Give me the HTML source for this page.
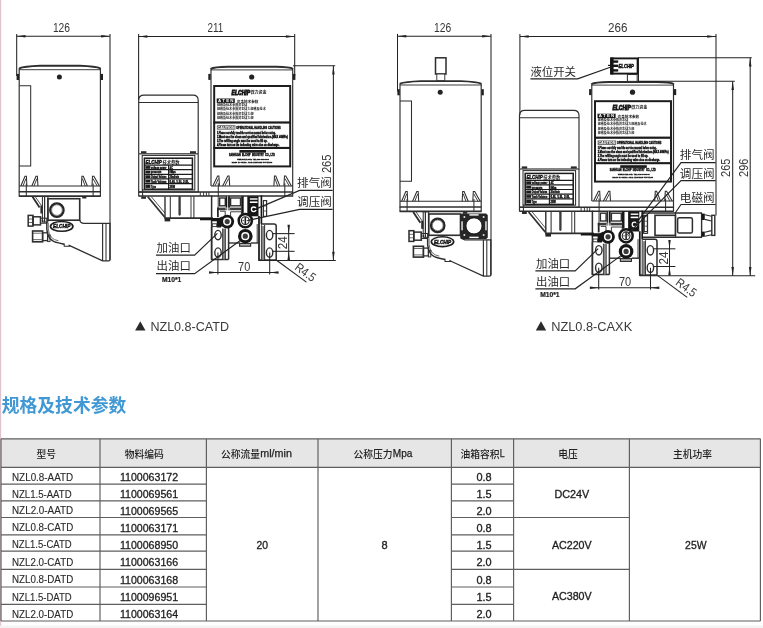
<!DOCTYPE html>
<html><head><meta charset="utf-8"><title>NZL</title>
<style>
html,body{margin:0;padding:0;background:#fff;}
body{width:763px;height:628px;overflow:hidden;font-family:"Liberation Sans","Noto Sans CJK SC",sans-serif;}
svg{display:block;font-family:"Liberation Sans","Noto Sans CJK SC",sans-serif;}
svg text{white-space:pre;}
</style></head><body>
<svg width="763" height="628" viewBox="0 0 763 628">
<rect width="763" height="628" fill="#fff"/>
<filter id="soft" x="0" y="0" width="763" height="628" filterUnits="userSpaceOnUse"><feGaussianBlur stdDeviation="0.38"/></filter>
<rect x="0" y="0" width="1" height="628" fill="#e0c3cd"/><rect x="1" y="0" width="1" height="628" fill="#fbf3f5"/>
<g filter="url(#soft)">
<line x1="16.70" y1="33.90" x2="16.70" y2="76.00" stroke="#222" stroke-width="1.044" /><line x1="110.00" y1="33.90" x2="110.00" y2="260.00" stroke="#222" stroke-width="1.044" /><line x1="16.70" y1="36.20" x2="110.00" y2="36.20" stroke="#222" stroke-width="1.044" /><polygon points="16.70,36.20 25.50,34.95 25.50,37.45" fill="#222"/><polygon points="110.00,36.20 101.20,34.95 101.20,37.45" fill="#222"/><text x="61.50" y="31.90" font-size="13.2" fill="#363636" text-anchor="middle" font-weight="normal" textLength="17.20" lengthAdjust="spacingAndGlyphs"  style="">126</text><g transform="translate(0,0)"><path d="M19.2,68.3 Q24,66.4 40,65.8 H80 Q96,66.4 100.4,68.3" stroke="#2e2e2e" stroke-width="1.856" fill="none" /><line x1="19.20" y1="69.70" x2="100.40" y2="69.70" stroke="#2e2e2e" stroke-width="0.928" /><line x1="19.20" y1="68.00" x2="19.20" y2="196.10" stroke="#2e2e2e" stroke-width="1.16" /><line x1="100.40" y1="68.00" x2="100.40" y2="196.10" stroke="#2e2e2e" stroke-width="1.16" /><rect x="16.60" y="73.90" width="2.40" height="6.10" fill="#222"/><rect x="100.60" y="73.90" width="2.40" height="6.10" fill="#222"/><circle cx="59.40" cy="77.00" r="2.50" stroke="#2e2e2e" stroke-width="0.0" fill="#222"/><path d="M19.2,85.8 H30.7 V165.9 H19.2" stroke="#2e2e2e" stroke-width="1.044" fill="none" /><path d="M20.8,186 L25.0,176.2 L26.4,176.2 L26.9,186" stroke="#2e2e2e" stroke-width="1.044" fill="none" /><line x1="23.00" y1="186.00" x2="25.90" y2="178.60" stroke="#2e2e2e" stroke-width="0.928" /><path d="M31.8,186 L36.0,176.2 L37.4,176.2 L37.9,186" stroke="#2e2e2e" stroke-width="1.044" fill="none" /><line x1="34.00" y1="186.00" x2="36.90" y2="178.60" stroke="#2e2e2e" stroke-width="0.928" /><path d="M87.4,186 L83.3,176.2 L81.89999999999999,176.2 L81.39999999999999,186" stroke="#2e2e2e" stroke-width="1.044" fill="none" /><line x1="85.20" y1="186.00" x2="82.40" y2="178.60" stroke="#2e2e2e" stroke-width="0.928" /><path d="M99.4,186 L93.9,176.2 L92.5,176.2 L92.0,186" stroke="#2e2e2e" stroke-width="1.044" fill="none" /><line x1="97.20" y1="186.00" x2="93.00" y2="178.60" stroke="#2e2e2e" stroke-width="0.928" /><line x1="19.20" y1="186.00" x2="100.40" y2="186.00" stroke="#2e2e2e" stroke-width="1.044" /><line x1="18.80" y1="191.70" x2="100.80" y2="191.70" stroke="#2e2e2e" stroke-width="1.624" /><line x1="18.80" y1="196.10" x2="100.80" y2="196.10" stroke="#2e2e2e" stroke-width="1.624" /><line x1="26.30" y1="183.60" x2="26.30" y2="196.10" stroke="#2e2e2e" stroke-width="1.044" /><line x1="93.10" y1="183.60" x2="93.10" y2="196.10" stroke="#2e2e2e" stroke-width="1.044" /><line x1="32.40" y1="196.60" x2="39.60" y2="207.40" stroke="#2e2e2e" stroke-width="1.856" /><line x1="35.20" y1="196.60" x2="41.40" y2="205.60" stroke="#2e2e2e" stroke-width="0.812" /><rect x="42.40" y="196.50" width="2.20" height="25.50" stroke="#2e2e2e" stroke-width="1.044" fill="none" /><rect x="44.60" y="196.50" width="3.30" height="25.50" stroke="#2e2e2e" stroke-width="1.044" fill="none" /><rect x="40.40" y="205.50" width="2.20" height="8.00" fill="#2a2a2a"/><rect x="82.20" y="196.60" width="4.20" height="1.90" fill="#2a2a2a"/><rect x="47.90" y="198.70" width="31.80" height="21.50" stroke="#2e2e2e" stroke-width="1.624" fill="none" /><circle cx="56.90" cy="210.10" r="6.70" stroke="#262626" stroke-width="2.32" fill="none"/><circle cx="56.90" cy="210.10" r="5.30" stroke="#666" stroke-width="0.696" fill="none"/><rect x="28.20" y="215.40" width="4.80" height="10.70" stroke="#2e2e2e" stroke-width="1.508" fill="none" /><line x1="28.20" y1="219.00" x2="32.60" y2="219.00" stroke="#2e2e2e" stroke-width="0.696" /><line x1="28.20" y1="222.50" x2="32.60" y2="222.50" stroke="#2e2e2e" stroke-width="0.696" /><rect x="33.00" y="216.80" width="7.50" height="8.10" stroke="#2e2e2e" stroke-width="1.508" fill="none" /><rect x="40.50" y="218.20" width="6.30" height="5.00" stroke="#2e2e2e" stroke-width="1.044" fill="none" /><circle cx="42.60" cy="220.70" r="0.90" stroke="#2e2e2e" stroke-width="0.0" fill="#222"/><rect x="32.60" y="231.00" width="10.00" height="10.80" stroke="#2e2e2e" stroke-width="1.624" fill="none" /><line x1="32.60" y1="233.20" x2="41.80" y2="233.20" stroke="#2e2e2e" stroke-width="0.696" /><line x1="32.60" y1="239.60" x2="41.80" y2="239.60" stroke="#2e2e2e" stroke-width="0.696" /><rect x="42.60" y="232.80" width="5.00" height="7.80" stroke="#2e2e2e" stroke-width="1.276" fill="none" /><rect x="47.60" y="235.00" width="2.40" height="6.60" stroke="#2e2e2e" stroke-width="0.928" fill="none" /><path d="M46.8,222 L46.8,229 Q47.6,241.5 58.5,242.9 L64.2,244.2" stroke="#2e2e2e" stroke-width="1.392" fill="none" /><path d="M48.3,223 L48.3,229 Q49.3,239.5 58.5,240.8" stroke="#2e2e2e" stroke-width="0.696" fill="none" /><path d="M64.2,243.4 V246.2 H69.6 V245.0" stroke="#2e2e2e" stroke-width="1.044" fill="none" /><path d="M79.7,220.2 Q80.4,223.4 84,223.4 H110.0 V259.4 Q110.0,260.8 108.6,260.8 H102.6 L68.6,245.2" stroke="#2e2e2e" stroke-width="1.276" fill="none" /><line x1="102.60" y1="223.40" x2="102.60" y2="260.80" stroke="#2e2e2e" stroke-width="1.16" /><line x1="106.00" y1="223.40" x2="106.00" y2="260.80" stroke="#2e2e2e" stroke-width="1.044" /><ellipse cx="61.70" cy="226.40" rx="12.00" ry="5.70" stroke="#2e2e2e" stroke-width="0.0" fill="#1c1c1c"/><ellipse cx="61.70" cy="226.40" rx="10.30" ry="4.10" stroke="#2e2e2e" stroke-width="0.0" fill="#fff"/><text x="61.70" y="228.30" font-size="5.2" fill="#111" text-anchor="middle" font-weight="bold" textLength="17.20" lengthAdjust="spacingAndGlyphs" stroke="#111" stroke-width="0.45" style="font-style:italic">ELCHIP</text></g><line x1="138.60" y1="34.00" x2="138.60" y2="100.00" stroke="#222" stroke-width="1.044" /><line x1="294.70" y1="34.00" x2="294.70" y2="76.00" stroke="#222" stroke-width="1.044" /><line x1="138.60" y1="36.40" x2="294.70" y2="36.40" stroke="#222" stroke-width="1.044" /><polygon points="138.60,36.40 147.40,35.15 147.40,37.65" fill="#222"/><polygon points="294.70,36.40 285.90,35.15 285.90,37.65" fill="#222"/><text x="215.30" y="31.90" font-size="13.2" fill="#363636" text-anchor="middle" font-weight="normal" textLength="15.80" lengthAdjust="spacingAndGlyphs"  style="">211</text><g transform="translate(0,0)"><path d="M138.7,153.6 V100.3 Q138.7,95.1 143.9,95.1 H193.0 Q198.2,95.1 198.2,100.3 V153.6" stroke="#2e2e2e" stroke-width="1.16" fill="none" /><line x1="138.70" y1="102.50" x2="198.20" y2="102.50" stroke="#2e2e2e" stroke-width="1.044" /><rect x="141.00" y="151.20" width="5.40" height="2.20" fill="#2a2a2a"/><rect x="190.00" y="151.20" width="6.00" height="2.20" fill="#2a2a2a"/><rect x="138.70" y="153.80" width="59.50" height="38.20" stroke="#2e2e2e" stroke-width="1.16" fill="none" /><rect x="142.20" y="155.40" width="52.60" height="34.60" stroke="#2e2e2e" stroke-width="1.044" fill="none" /><rect x="144.40" y="158.20" width="48.00" height="31.00" stroke="#1a1a1a" stroke-width="1.508" fill="none" /><text x="145.60" y="164.00" font-size="5.9" fill="#1a1a1a" text-anchor="start" font-weight="bold" textLength="16.20" lengthAdjust="spacingAndGlyphs" stroke="#1a1a1a" stroke-width="0.55" style="font-style:italic">ELCHIP</text><text x="162.40" y="163.90" font-size="4.3" fill="#1a1a1a" text-anchor="start" font-weight="bold" textLength="17.20" lengthAdjust="spacingAndGlyphs">技术参数</text><line x1="144.40" y1="165.10" x2="192.40" y2="165.10" stroke="#1a1a1a" stroke-width="1.218" /><line x1="144.40" y1="169.70" x2="192.40" y2="169.70" stroke="#1a1a1a" stroke-width="1.218" /><line x1="144.40" y1="174.30" x2="192.40" y2="174.30" stroke="#1a1a1a" stroke-width="1.218" /><line x1="144.40" y1="178.90" x2="192.40" y2="178.90" stroke="#1a1a1a" stroke-width="1.218" /><line x1="144.40" y1="183.60" x2="192.40" y2="183.60" stroke="#1a1a1a" stroke-width="1.218" /><line x1="168.60" y1="165.10" x2="168.60" y2="189.20" stroke="#1a1a1a" stroke-width="1.102" /><rect x="145.40" y="166.10" width="5.00" height="2.70" fill="#1a1a1a"/><text x="151.00" y="168.80" font-size="3.1" fill="#1a1a1a" text-anchor="start" font-weight="bold" textLength="15.50" lengthAdjust="spacingAndGlyphs" stroke="#1a1a1a" stroke-width="0.36" style="">voltage power</text><text x="169.60" y="168.80" font-size="3.1" fill="#1a1a1a" text-anchor="start" font-weight="bold" textLength="3.40" lengthAdjust="spacingAndGlyphs" stroke="#1a1a1a" stroke-width="0.36" style="">AC</text><rect x="145.40" y="170.70" width="5.00" height="2.70" fill="#1a1a1a"/><text x="151.00" y="173.40" font-size="3.1" fill="#1a1a1a" text-anchor="start" font-weight="bold" textLength="10.50" lengthAdjust="spacingAndGlyphs" stroke="#1a1a1a" stroke-width="0.36" style="">pressure</text><text x="169.60" y="173.40" font-size="3.1" fill="#1a1a1a" text-anchor="start" font-weight="bold" textLength="6.00" lengthAdjust="spacingAndGlyphs" stroke="#1a1a1a" stroke-width="0.36" style="">8Mpa</text><rect x="145.40" y="175.30" width="5.00" height="2.70" fill="#1a1a1a"/><text x="151.00" y="178.00" font-size="3.1" fill="#1a1a1a" text-anchor="start" font-weight="bold" textLength="15.50" lengthAdjust="spacingAndGlyphs" stroke="#1a1a1a" stroke-width="0.36" style="">Output Volume</text><text x="169.60" y="178.00" font-size="3.1" fill="#1a1a1a" text-anchor="start" font-weight="bold" textLength="9.50" lengthAdjust="spacingAndGlyphs" stroke="#1a1a1a" stroke-width="0.36" style="">20ml/min</text><rect x="145.40" y="179.90" width="5.00" height="2.70" fill="#1a1a1a"/><text x="151.00" y="182.60" font-size="3.1" fill="#1a1a1a" text-anchor="start" font-weight="bold" textLength="15.50" lengthAdjust="spacingAndGlyphs" stroke="#1a1a1a" stroke-width="0.36" style="">Tank Volume</text><text x="169.60" y="182.60" font-size="3.1" fill="#1a1a1a" text-anchor="start" font-weight="bold" textLength="19.50" lengthAdjust="spacingAndGlyphs" stroke="#1a1a1a" stroke-width="0.36" style="">0.8L 1.5L 2.0L</text><rect x="145.40" y="184.60" width="5.00" height="3.30" fill="#1a1a1a"/><text x="151.00" y="187.90" font-size="3.1" fill="#1a1a1a" text-anchor="start" font-weight="bold" textLength="5.00" lengthAdjust="spacingAndGlyphs" stroke="#1a1a1a" stroke-width="0.36" style="">Type</text><text x="169.60" y="187.90" font-size="3.1" fill="#1a1a1a" text-anchor="start" font-weight="bold" textLength="5.50" lengthAdjust="spacingAndGlyphs" stroke="#1a1a1a" stroke-width="0.36" style="">25W</text><line x1="138.70" y1="192.00" x2="292.90" y2="192.00" stroke="#2e2e2e" stroke-width="1.624" /><line x1="138.70" y1="196.00" x2="292.90" y2="196.00" stroke="#2e2e2e" stroke-width="1.624" /><line x1="138.70" y1="192.00" x2="138.70" y2="196.40" stroke="#2e2e2e" stroke-width="1.16" /><line x1="142.60" y1="189.60" x2="142.60" y2="196.40" stroke="#2e2e2e" stroke-width="1.044" /><line x1="200.30" y1="192.00" x2="200.30" y2="196.00" stroke="#2e2e2e" stroke-width="0.928" /><line x1="203.60" y1="192.00" x2="203.60" y2="196.00" stroke="#2e2e2e" stroke-width="0.928" /><line x1="206.40" y1="192.00" x2="206.40" y2="196.00" stroke="#2e2e2e" stroke-width="0.928" /><line x1="208.90" y1="192.00" x2="208.90" y2="196.00" stroke="#2e2e2e" stroke-width="0.928" /><rect x="141.20" y="196.60" width="4.80" height="2.20" fill="#2a2a2a"/><path d="M147.8,196.8 L164.6,217.0" stroke="#2e2e2e" stroke-width="1.74" fill="none" /><line x1="151.40" y1="196.80" x2="165.00" y2="213.20" stroke="#2e2e2e" stroke-width="0.812" /><line x1="164.30" y1="218.20" x2="213.00" y2="218.20" stroke="#2e2e2e" stroke-width="1.74" /><line x1="165.00" y1="196.40" x2="165.00" y2="218.20" stroke="#2e2e2e" stroke-width="1.392" /><line x1="170.30" y1="196.40" x2="170.30" y2="218.20" stroke="#2e2e2e" stroke-width="1.044" /><line x1="191.00" y1="196.40" x2="191.00" y2="218.20" stroke="#2e2e2e" stroke-width="0.928" /><line x1="193.90" y1="196.40" x2="193.90" y2="218.20" stroke="#2e2e2e" stroke-width="1.044" /><line x1="179.60" y1="197.00" x2="179.60" y2="214.60" stroke="#3a3a3a" stroke-width="2.32" stroke-linecap="round"/><rect x="164.60" y="218.60" width="5.60" height="2.80" fill="#262626"/><path d="M210.8,68.8 Q214,67.0 228,66.8 H276 Q290,67.0 292.9,68.8" stroke="#2e2e2e" stroke-width="1.972" fill="none" /><line x1="210.80" y1="69.90" x2="292.90" y2="69.90" stroke="#2e2e2e" stroke-width="0.928" /><line x1="211.00" y1="68.00" x2="211.00" y2="185.90" stroke="#2e2e2e" stroke-width="1.16" /><line x1="292.70" y1="68.00" x2="292.70" y2="196.40" stroke="#2e2e2e" stroke-width="1.16" /><rect x="208.30" y="73.90" width="2.40" height="6.00" fill="#222"/><rect x="293.00" y="73.90" width="2.40" height="6.00" fill="#222"/><circle cx="251.70" cy="77.00" r="2.60" stroke="#2e2e2e" stroke-width="0.0" fill="#222"/><rect x="214.20" y="86.00" width="76.00" height="80.40" stroke="#1c1c1c" stroke-width="1.972" fill="none" /><rect x="213.40" y="121.40" width="77.60" height="2.20" fill="#1c1c1c"/><rect x="213.40" y="146.90" width="77.60" height="2.10" fill="#1c1c1c"/><text x="231.60" y="94.50" font-size="6.3" fill="#1a1a1a" text-anchor="start" font-weight="bold" textLength="18.40" lengthAdjust="spacingAndGlyphs" stroke="#1a1a1a" stroke-width="0.85" style="font-style:italic">ELCHIP</text><text x="250.40" y="94.30" font-size="4" fill="#1a1a1a" text-anchor="start" font-weight="bold" textLength="16.00" lengthAdjust="spacingAndGlyphs">微力资金</text><rect x="216.70" y="98.50" width="18.10" height="4.40" fill="#1a1a1a"/><text x="218.00" y="102.00" font-size="3.6" fill="#fff" text-anchor="start" font-weight="bold" textLength="15.50" lengthAdjust="spacingAndGlyphs" stroke="#fff" stroke-width="0" style="">A T E N</text><text x="236.80" y="102.50" font-size="3.6" fill="#1a1a1a" text-anchor="start" font-weight="bold" textLength="21.60" lengthAdjust="spacingAndGlyphs">资金技术参数</text><text x="216.90" y="106.30" font-size="3.05" fill="#1a1a1a" text-anchor="start" font-weight="bold" textLength="30.50" lengthAdjust="spacingAndGlyphs">规格及技术参数资金微</text><text x="216.90" y="110.30" font-size="3.05" fill="#1a1a1a" text-anchor="start" font-weight="bold" textLength="48.80" lengthAdjust="spacingAndGlyphs">规格及技术参数资金微力规格及技术</text><text x="216.90" y="114.90" font-size="3.05" fill="#1a1a1a" text-anchor="start" font-weight="bold" textLength="36.60" lengthAdjust="spacingAndGlyphs">规格及技术参数资金微力规</text><text x="216.90" y="119.10" font-size="3.05" fill="#1a1a1a" text-anchor="start" font-weight="bold" textLength="36.60" lengthAdjust="spacingAndGlyphs">规格及技术参数资金微力规</text><rect x="216.90" y="125.30" width="18.50" height="4.30" fill="#555"/><text x="217.60" y="128.50" font-size="3.6" fill="#fff" text-anchor="start" font-weight="bold" textLength="17.00" lengthAdjust="spacingAndGlyphs" stroke="#fff" stroke-width="0" style="">CAUTION</text><text x="236.20" y="129.20" font-size="3.9" fill="#1a1a1a" text-anchor="start" font-weight="bold" textLength="44.40" lengthAdjust="spacingAndGlyphs" stroke="#1a1a1a" stroke-width="0.45" style="">OPERATIONAL HANDLING CAUTIONS</text><text x="216.90" y="134.00" font-size="3.2" fill="#1a1a1a" text-anchor="start" font-weight="bold" textLength="58.90" lengthAdjust="spacingAndGlyphs" stroke="#1a1a1a" stroke-width="0.42" style="">1.Please carefully read the service manual before using.</text><text x="216.90" y="138.00" font-size="3.2" fill="#1a1a1a" text-anchor="start" font-weight="bold" textLength="70.90" lengthAdjust="spacingAndGlyphs" stroke="#1a1a1a" stroke-width="0.42" style="">2.Must use the clean and qualified lubrication.(MAX 40MPa)</text><text x="216.90" y="141.70" font-size="3.2" fill="#1a1a1a" text-anchor="start" font-weight="bold" textLength="50.50" lengthAdjust="spacingAndGlyphs" stroke="#1a1a1a" stroke-width="0.42" style="">3.The refilling angle must be used to fill up.</text><text x="216.90" y="145.90" font-size="3.2" fill="#1a1a1a" text-anchor="start" font-weight="bold" textLength="62.40" lengthAdjust="spacingAndGlyphs" stroke="#1a1a1a" stroke-width="0.42" style="">4.Please turn on the indicating valve clos on discharge.</text><rect x="239.40" y="150.00" width="26.60" height="2.70" fill="#1a1a1a"/><text x="229.00" y="156.30" font-size="3.7" fill="#1a1a1a" text-anchor="start" font-weight="bold" textLength="46.00" lengthAdjust="spacingAndGlyphs" stroke="#1a1a1a" stroke-width="0.45" style="">SANHUAN  ELCHIP  INDUSTRY  CO., LTD</text><text x="237.20" y="159.80" font-size="2.2" fill="#1a1a1a" text-anchor="start" font-weight="bold" textLength="31.50" lengthAdjust="spacingAndGlyphs" stroke="#1a1a1a" stroke-width="0.3" style="">www.elchip.com  TEL:400-888-8888</text><text x="231.70" y="162.50" font-size="2.2" fill="#1a1a1a" text-anchor="start" font-weight="bold" textLength="40.60" lengthAdjust="spacingAndGlyphs" stroke="#1a1a1a" stroke-width="0.3" style="">Made in China  Add: Zhejiang Province</text><path d="M212.8,185.9 L217.6,176.0 L218.9,176.0 L219.5,185.9" stroke="#2e2e2e" stroke-width="1.044" fill="none" /><line x1="215.00" y1="185.90" x2="218.40" y2="178.60" stroke="#2e2e2e" stroke-width="0.928" /><path d="M222.6,185.9 L227.8,176.0 L229.10000000000002,176.0 L229.70000000000002,185.9" stroke="#2e2e2e" stroke-width="1.044" fill="none" /><line x1="224.80" y1="185.90" x2="228.60" y2="178.60" stroke="#2e2e2e" stroke-width="0.928" /><path d="M279.8,185.9 L275.8,176.0 L274.5,176.0 L273.90000000000003,185.9" stroke="#2e2e2e" stroke-width="1.044" fill="none" /><line x1="277.60" y1="185.90" x2="275.00" y2="178.60" stroke="#2e2e2e" stroke-width="0.928" /><path d="M291.4,185.9 L285.8,176.0 L284.5,176.0 L283.90000000000003,185.9" stroke="#2e2e2e" stroke-width="1.044" fill="none" /><line x1="289.20" y1="185.90" x2="285.00" y2="178.60" stroke="#2e2e2e" stroke-width="0.928" /><line x1="211.00" y1="185.90" x2="292.70" y2="185.90" stroke="#2e2e2e" stroke-width="1.044" /><line x1="218.30" y1="183.20" x2="218.30" y2="196.00" stroke="#2e2e2e" stroke-width="1.044" /><line x1="284.80" y1="183.20" x2="284.80" y2="196.00" stroke="#2e2e2e" stroke-width="1.044" /><line x1="211.60" y1="195.40" x2="211.60" y2="259.60" stroke="#2e2e2e" stroke-width="1.508" /><line x1="218.20" y1="196.00" x2="218.20" y2="207.60" stroke="#2e2e2e" stroke-width="0.928" /><rect x="219.60" y="198.00" width="5.70" height="7.80" stroke="#2e2e2e" stroke-width="1.392" fill="none" /><rect x="225.90" y="196.20" width="4.00" height="11.40" fill="#191919"/><rect x="230.60" y="198.00" width="9.90" height="7.80" stroke="#2e2e2e" stroke-width="1.392" fill="none" /><rect x="241.20" y="196.20" width="2.50" height="17.20" fill="#191919"/><rect x="247.30" y="196.20" width="11.20" height="20.10" fill="#191919"/><rect x="249.90" y="198.30" width="7.60" height="1.40" fill="#fff"/><rect x="249.90" y="201.40" width="7.60" height="1.60" fill="#fff"/><circle cx="253.70" cy="209.30" r="2.30" stroke="#fff" stroke-width="1.276" fill="#191919"/><rect x="254.60" y="208.60" width="2.40" height="1.40" fill="#191919"/><rect x="217.00" y="207.60" width="24.60" height="2.60" fill="#3c3c3c"/><rect x="217.00" y="207.60" width="1.80" height="9.60" fill="#2a2a2a"/><line x1="227.60" y1="196.20" x2="227.60" y2="214.50" stroke="#fff" stroke-width="0.812" /><line x1="225.20" y1="208.90" x2="230.20" y2="208.90" stroke="#fff" stroke-width="0.696" /><path d="M220,211.2 H225.2 V216" stroke="#2e2e2e" stroke-width="0.928" fill="none" /><path d="M230.6,216 V211.8 H241.4 V214" stroke="#2e2e2e" stroke-width="0.928" fill="none" /><line x1="261.40" y1="195.40" x2="261.40" y2="224.00" stroke="#191919" stroke-width="1.624" /><line x1="259.00" y1="216.00" x2="259.00" y2="260.40" stroke="#191919" stroke-width="1.74" /><rect x="263.40" y="200.60" width="3.20" height="15.80" stroke="#2e2e2e" stroke-width="1.16" fill="none" /><line x1="263.40" y1="206.00" x2="266.60" y2="206.00" stroke="#2e2e2e" stroke-width="0.696" /><line x1="263.40" y1="211.00" x2="266.60" y2="211.00" stroke="#2e2e2e" stroke-width="0.696" /><path d="M200,218.0 H219 L222,216.6 L224,222 L221,227.4 H216.8 V221.2 H211 V220.2 H200 Z" stroke="#2e2e2e" stroke-width="0.0" fill="#151515" /><rect x="212.20" y="223.80" width="4.60" height="2.80" stroke="#2e2e2e" stroke-width="0.928" fill="none" /><path d="M211.6,227 V259.4 H228.6" stroke="#2e2e2e" stroke-width="1.508" fill="none" /><rect x="223.00" y="228.50" width="2.00" height="30.90" fill="#8a8a8a"/><line x1="222.60" y1="228.50" x2="222.60" y2="259.40" stroke="#2e2e2e" stroke-width="0.928" /><line x1="225.40" y1="228.50" x2="225.40" y2="259.40" stroke="#2e2e2e" stroke-width="0.928" /><line x1="228.60" y1="227.00" x2="228.60" y2="259.40" stroke="#2e2e2e" stroke-width="1.508" /><ellipse cx="218.00" cy="235.10" rx="3.20" ry="4.70" stroke="#2e2e2e" stroke-width="1.392" fill="#fff"/><ellipse cx="218.00" cy="252.60" rx="3.20" ry="4.70" stroke="#2e2e2e" stroke-width="1.392" fill="#fff"/><line x1="228.60" y1="243.00" x2="240.00" y2="243.00" stroke="#2e2e2e" stroke-width="1.392" /><line x1="251.00" y1="243.00" x2="259.00" y2="243.00" stroke="#2e2e2e" stroke-width="1.392" /><rect x="239.60" y="243.40" width="11.00" height="2.80" stroke="#2e2e2e" stroke-width="1.16" fill="#b5b5b5" /><line x1="257.20" y1="224.00" x2="257.20" y2="243.00" stroke="#2e2e2e" stroke-width="0.928" /><circle cx="227.20" cy="221.60" r="6.90" stroke="#2e2e2e" stroke-width="0.0" fill="#161616"/><circle cx="227.20" cy="221.60" r="3.35" stroke="#fff" stroke-width="1.5" fill="#3a3a3a"/><circle cx="245.30" cy="220.60" r="6.60" stroke="#161616" stroke-width="2.5" fill="#fff"/><circle cx="245.30" cy="220.60" r="3.90" stroke="#222" stroke-width="1.1" fill="#fff"/><rect x="244.50" y="217.00" width="1.60" height="7.20" fill="#222"/><rect x="242.50" y="220.10" width="1.40" height="1.00" fill="#333"/><rect x="246.70" y="220.10" width="1.40" height="1.00" fill="#333"/><circle cx="245.30" cy="236.20" r="7.30" stroke="#2e2e2e" stroke-width="0.0" fill="#161616"/><circle cx="245.30" cy="236.20" r="3.35" stroke="#fff" stroke-width="1.5" fill="#3a3a3a"/><path d="M261.4,224.0 H274.0 Q276.2,224.0 276.2,226.2 V259.9 H258.4" stroke="#2e2e2e" stroke-width="1.508" fill="none" /><rect x="261.90" y="226.00" width="2.30" height="33.60" fill="#8a8a8a"/><line x1="264.60" y1="225.00" x2="264.60" y2="259.90" stroke="#2e2e2e" stroke-width="1.044" /><line x1="261.40" y1="224.00" x2="261.40" y2="259.90" stroke="#2e2e2e" stroke-width="0.928" /><ellipse cx="269.60" cy="235.10" rx="3.20" ry="4.70" stroke="#2e2e2e" stroke-width="1.392" fill="#fff"/><ellipse cx="269.60" cy="252.60" rx="3.20" ry="4.70" stroke="#2e2e2e" stroke-width="1.392" fill="#fff"/></g><g transform="translate(0,0)"><line x1="272.90" y1="233.60" x2="294.60" y2="233.60" stroke="#222" stroke-width="1.044" /><line x1="272.90" y1="251.30" x2="294.60" y2="251.30" stroke="#222" stroke-width="1.044" /><line x1="288.70" y1="225.00" x2="288.70" y2="260.50" stroke="#222" stroke-width="1.044" /><polygon points="288.70,233.60 287.45,224.80 289.95,224.80" fill="#222"/><polygon points="288.70,251.30 287.45,260.10 289.95,260.10" fill="#222"/><g transform="translate(287.0,242.7) rotate(-90)"><text x="0.00" y="0.00" font-size="13.2" fill="#363636" text-anchor="middle" font-weight="normal" textLength="13.00" lengthAdjust="spacingAndGlyphs"  style="">24</text></g><line x1="209.30" y1="272.60" x2="278.20" y2="272.60" stroke="#222" stroke-width="1.044" /><polygon points="217.90,272.60 209.10,271.35 209.10,273.85" fill="#222"/><polygon points="269.70,272.60 278.50,271.35 278.50,273.85" fill="#222"/><line x1="217.90" y1="252.60" x2="217.90" y2="274.40" stroke="#222" stroke-width="1.044" /><line x1="269.70" y1="252.60" x2="269.70" y2="274.40" stroke="#222" stroke-width="1.044" /><text x="244.20" y="271.10" font-size="13.2" fill="#363636" text-anchor="middle" font-weight="normal" textLength="12.20" lengthAdjust="spacingAndGlyphs"  style="">70</text><line x1="276.90" y1="260.50" x2="306.40" y2="282.10" stroke="#222" stroke-width="1.044" /><g transform="translate(303.0,275.6) rotate(36.2)"><text x="0.00" y="0.00" font-size="12.4" fill="#363636" text-anchor="middle" font-weight="normal" textLength="22.60" lengthAdjust="spacingAndGlyphs"  style="">R4.5</text></g></g><text x="156.60" y="252.00" font-size="11.4" fill="#2a2a2a" text-anchor="start" font-weight="normal" textLength="34.20" lengthAdjust="spacingAndGlyphs">加油口</text><path d="M156,255.2 H194.6 L217.4,233.4" stroke="#222" stroke-width="1.16" fill="none" /><text x="156.60" y="269.90" font-size="11.4" fill="#2a2a2a" text-anchor="start" font-weight="normal" textLength="34.20" lengthAdjust="spacingAndGlyphs">出油口</text><path d="M156,273.6 H194.6 L240.6,240.2" stroke="#222" stroke-width="1.16" fill="none" /><text x="161.90" y="281.50" font-size="6.3" fill="#222" text-anchor="start" font-weight="bold" textLength="19.40" lengthAdjust="spacingAndGlyphs" stroke="#222" stroke-width="0.2" style="">M10*1</text><line x1="293.00" y1="65.70" x2="335.20" y2="65.70" stroke="#222" stroke-width="1.044" /><line x1="258.60" y1="260.50" x2="335.80" y2="260.50" stroke="#222" stroke-width="1.044" /><line x1="333.40" y1="65.70" x2="333.40" y2="260.50" stroke="#222" stroke-width="1.044" /><polygon points="333.40,65.70 332.15,74.50 334.65,74.50" fill="#222"/><polygon points="333.40,260.50 332.15,251.70 334.65,251.70" fill="#222"/><g transform="translate(330.9,163.8) rotate(-90)"><text x="0.00" y="0.00" font-size="13.2" fill="#363636" text-anchor="middle" font-weight="normal" textLength="18.60" lengthAdjust="spacingAndGlyphs"  style="">265</text></g><text x="297.10" y="186.50" font-size="11.6" fill="#2a2a2a" text-anchor="start" font-weight="normal" textLength="34.80" lengthAdjust="spacingAndGlyphs">排气阀</text><path d="M332.6,190.4 H299.6 L255.0,209.4" stroke="#222" stroke-width="1.16" fill="none" /><text x="297.10" y="206.20" font-size="11.6" fill="#2a2a2a" text-anchor="start" font-weight="normal" textLength="34.80" lengthAdjust="spacingAndGlyphs">调压阀</text><path d="M332.6,209.4 H299.6 L248.0,220.4" stroke="#222" stroke-width="1.16" fill="none" /><polygon points="140.3,321.3 145.5,330.6 135.1,330.6" fill="#2b2b2b"/><text x="150.40" y="330.60" font-size="13" fill="#3a3a3a" text-anchor="start" font-weight="normal" textLength="78.60" lengthAdjust="spacingAndGlyphs"  style="">NZL0.8-CATD</text><line x1="397.50" y1="33.90" x2="397.50" y2="91.50" stroke="#222" stroke-width="1.044" /><line x1="491.00" y1="33.90" x2="491.00" y2="275.50" stroke="#222" stroke-width="1.044" /><line x1="397.50" y1="36.20" x2="491.00" y2="36.20" stroke="#222" stroke-width="1.044" /><polygon points="397.50,36.20 406.30,34.95 406.30,37.45" fill="#222"/><polygon points="491.00,36.20 482.20,34.95 482.20,37.45" fill="#222"/><text x="442.70" y="31.90" font-size="13.2" fill="#363636" text-anchor="middle" font-weight="normal" textLength="17.20" lengthAdjust="spacingAndGlyphs"  style="">126</text><rect x="435.50" y="57.80" width="10.50" height="16.20" stroke="#2e2e2e" stroke-width="1.508" fill="#fff" /><rect x="436.80" y="74.00" width="8.00" height="6.90" stroke="#2e2e2e" stroke-width="0.928" fill="#fff" /><g transform="translate(380.8,15.3)"><path d="M19.2,68.3 Q24,66.4 40,65.8 H80 Q96,66.4 100.4,68.3" stroke="#2e2e2e" stroke-width="1.856" fill="none" /><line x1="19.20" y1="69.70" x2="100.40" y2="69.70" stroke="#2e2e2e" stroke-width="0.928" /><line x1="19.20" y1="68.00" x2="19.20" y2="196.10" stroke="#2e2e2e" stroke-width="1.16" /><line x1="100.40" y1="68.00" x2="100.40" y2="196.10" stroke="#2e2e2e" stroke-width="1.16" /><rect x="16.60" y="73.90" width="2.40" height="6.10" fill="#222"/><rect x="100.60" y="73.90" width="2.40" height="6.10" fill="#222"/><circle cx="59.40" cy="77.00" r="2.50" stroke="#2e2e2e" stroke-width="0.0" fill="#222"/><path d="M19.2,85.8 H30.7 V165.9 H19.2" stroke="#2e2e2e" stroke-width="1.044" fill="none" /><path d="M20.8,186 L25.0,176.2 L26.4,176.2 L26.9,186" stroke="#2e2e2e" stroke-width="1.044" fill="none" /><line x1="23.00" y1="186.00" x2="25.90" y2="178.60" stroke="#2e2e2e" stroke-width="0.928" /><path d="M31.8,186 L36.0,176.2 L37.4,176.2 L37.9,186" stroke="#2e2e2e" stroke-width="1.044" fill="none" /><line x1="34.00" y1="186.00" x2="36.90" y2="178.60" stroke="#2e2e2e" stroke-width="0.928" /><path d="M87.4,186 L83.3,176.2 L81.89999999999999,176.2 L81.39999999999999,186" stroke="#2e2e2e" stroke-width="1.044" fill="none" /><line x1="85.20" y1="186.00" x2="82.40" y2="178.60" stroke="#2e2e2e" stroke-width="0.928" /><path d="M99.4,186 L93.9,176.2 L92.5,176.2 L92.0,186" stroke="#2e2e2e" stroke-width="1.044" fill="none" /><line x1="97.20" y1="186.00" x2="93.00" y2="178.60" stroke="#2e2e2e" stroke-width="0.928" /><line x1="19.20" y1="186.00" x2="100.40" y2="186.00" stroke="#2e2e2e" stroke-width="1.044" /><line x1="18.80" y1="191.70" x2="100.80" y2="191.70" stroke="#2e2e2e" stroke-width="1.624" /><line x1="18.80" y1="196.10" x2="100.80" y2="196.10" stroke="#2e2e2e" stroke-width="1.624" /><line x1="26.30" y1="183.60" x2="26.30" y2="196.10" stroke="#2e2e2e" stroke-width="1.044" /><line x1="93.10" y1="183.60" x2="93.10" y2="196.10" stroke="#2e2e2e" stroke-width="1.044" /><line x1="32.40" y1="196.60" x2="39.60" y2="207.40" stroke="#2e2e2e" stroke-width="1.856" /><line x1="35.20" y1="196.60" x2="41.40" y2="205.60" stroke="#2e2e2e" stroke-width="0.812" /><rect x="42.40" y="196.50" width="2.20" height="25.50" stroke="#2e2e2e" stroke-width="1.044" fill="none" /><rect x="44.60" y="196.50" width="3.30" height="25.50" stroke="#2e2e2e" stroke-width="1.044" fill="none" /><rect x="40.40" y="205.50" width="2.20" height="8.00" fill="#2a2a2a"/><rect x="82.20" y="196.60" width="4.20" height="1.90" fill="#2a2a2a"/><rect x="47.90" y="198.70" width="31.80" height="21.30" stroke="#2e2e2e" stroke-width="1.624" fill="none" /><circle cx="56.90" cy="210.10" r="6.70" stroke="#262626" stroke-width="2.32" fill="none"/><circle cx="56.90" cy="210.10" r="5.30" stroke="#666" stroke-width="0.696" fill="none"/><rect x="28.20" y="215.40" width="4.80" height="10.70" stroke="#2e2e2e" stroke-width="1.508" fill="none" /><line x1="28.20" y1="219.00" x2="32.60" y2="219.00" stroke="#2e2e2e" stroke-width="0.696" /><line x1="28.20" y1="222.50" x2="32.60" y2="222.50" stroke="#2e2e2e" stroke-width="0.696" /><rect x="33.00" y="216.80" width="7.50" height="8.10" stroke="#2e2e2e" stroke-width="1.508" fill="none" /><rect x="40.50" y="218.20" width="6.30" height="5.00" stroke="#2e2e2e" stroke-width="1.044" fill="none" /><circle cx="42.60" cy="220.70" r="0.90" stroke="#2e2e2e" stroke-width="0.0" fill="#222"/><rect x="32.60" y="231.00" width="10.00" height="10.80" stroke="#2e2e2e" stroke-width="1.624" fill="none" /><line x1="32.60" y1="233.20" x2="41.80" y2="233.20" stroke="#2e2e2e" stroke-width="0.696" /><line x1="32.60" y1="239.60" x2="41.80" y2="239.60" stroke="#2e2e2e" stroke-width="0.696" /><rect x="42.60" y="232.80" width="5.00" height="7.80" stroke="#2e2e2e" stroke-width="1.276" fill="none" /><rect x="47.60" y="235.00" width="2.40" height="6.60" stroke="#2e2e2e" stroke-width="0.928" fill="none" /><path d="M46.8,222 L46.8,229 Q47.6,241.5 58.5,242.9 L64.2,244.2" stroke="#2e2e2e" stroke-width="1.392" fill="none" /><path d="M48.3,223 L48.3,229 Q49.3,239.5 58.5,240.8" stroke="#2e2e2e" stroke-width="0.696" fill="none" /><path d="M64.2,243.4 V246.2 H69.6 V245.0" stroke="#2e2e2e" stroke-width="1.044" fill="none" /><path d="M79.7,222.6 L84,224.6 H110.0 V259.4 Q110.0,260.8 108.6,260.8 H102.6 L68.6,245.2" stroke="#2e2e2e" stroke-width="1.276" fill="none" /><line x1="102.60" y1="224.60" x2="102.60" y2="260.80" stroke="#2e2e2e" stroke-width="1.16" /><line x1="106.00" y1="224.60" x2="106.00" y2="260.80" stroke="#2e2e2e" stroke-width="1.044" /><path d="M81.0,198.3 H105.4 L107.0,199.9 V222.2 L105.4,223.8 H81.0 L79.4,222.2 V199.9 Z" stroke="#2e2e2e" stroke-width="0.0" fill="#262626" /><circle cx="93.20" cy="210.60" r="7.90" stroke="#2e2e2e" stroke-width="0.0" fill="#fff"/><circle cx="93.20" cy="210.60" r="8.10" stroke="#111" stroke-width="0.812" fill="none"/><rect x="88.60" y="198.90" width="9.20" height="1.40" fill="#fff"/><rect x="88.60" y="221.40" width="9.20" height="1.40" fill="#fff"/><rect x="80.60" y="206.00" width="1.30" height="9.00" fill="#fff"/><rect x="104.50" y="206.00" width="1.30" height="9.00" fill="#fff"/><circle cx="83.60" cy="201.60" r="1.00" stroke="#2e2e2e" stroke-width="0.0" fill="#e0e0e0"/><circle cx="102.80" cy="201.60" r="1.00" stroke="#2e2e2e" stroke-width="0.0" fill="#e0e0e0"/><circle cx="83.60" cy="219.80" r="1.00" stroke="#2e2e2e" stroke-width="0.0" fill="#e0e0e0"/><circle cx="102.80" cy="219.80" r="1.00" stroke="#2e2e2e" stroke-width="0.0" fill="#e0e0e0"/><ellipse cx="61.70" cy="226.40" rx="12.00" ry="5.70" stroke="#2e2e2e" stroke-width="0.0" fill="#1c1c1c"/><ellipse cx="61.70" cy="226.40" rx="10.30" ry="4.10" stroke="#2e2e2e" stroke-width="0.0" fill="#fff"/><text x="61.70" y="228.30" font-size="5.2" fill="#111" text-anchor="middle" font-weight="bold" textLength="17.20" lengthAdjust="spacingAndGlyphs" stroke="#111" stroke-width="0.45" style="font-style:italic">ELCHIP</text></g><line x1="519.90" y1="34.00" x2="519.90" y2="115.00" stroke="#222" stroke-width="1.044" /><line x1="716.00" y1="34.00" x2="716.00" y2="215.60" stroke="#222" stroke-width="1.044" /><line x1="519.90" y1="36.40" x2="716.00" y2="36.40" stroke="#222" stroke-width="1.044" /><polygon points="519.90,36.40 528.70,35.15 528.70,37.65" fill="#222"/><polygon points="716.00,36.40 707.20,35.15 707.20,37.65" fill="#222"/><text x="617.70" y="32.10" font-size="13.2" fill="#363636" text-anchor="middle" font-weight="normal" textLength="19.40" lengthAdjust="spacingAndGlyphs"  style="">266</text><line x1="643.00" y1="213.00" x2="702.00" y2="213.00" stroke="#2e2e2e" stroke-width="1.508" /><line x1="643.00" y1="237.20" x2="702.00" y2="237.20" stroke="#2e2e2e" stroke-width="1.508" /><rect x="643.60" y="215.30" width="4.00" height="18.10" stroke="#2e2e2e" stroke-width="1.044" fill="none" /><rect x="655.00" y="215.30" width="20.40" height="20.10" stroke="#2e2e2e" stroke-width="1.624" fill="none" /><line x1="675.60" y1="213.00" x2="675.60" y2="237.20" stroke="#2e2e2e" stroke-width="1.044" /><rect x="677.60" y="217.80" width="14.80" height="15.20" stroke="#2e2e2e" stroke-width="1.508" fill="none" rx="1.6"/><line x1="701.60" y1="213.00" x2="701.60" y2="237.20" stroke="#2e2e2e" stroke-width="1.392" /><rect x="701.60" y="213.60" width="3.20" height="6.40" fill="#191919"/><rect x="701.60" y="231.60" width="3.20" height="5.20" fill="#191919"/><path d="M704.8,219.4 L711.6,221.0 M704.8,232.2 L711.6,230.6" stroke="#2e2e2e" stroke-width="1.16" fill="none" /><path d="M704.8,214.8 L711.6,216.2 M704.8,236.2 L711.6,234.8" stroke="#2e2e2e" stroke-width="1.16" fill="none" /><rect x="711.80" y="215.30" width="3.00" height="20.10" stroke="#2e2e2e" stroke-width="1.392" fill="none" /><g transform="translate(380.8,15.2)"><path d="M138.7,153.6 V100.3 Q138.7,95.1 143.9,95.1 H193.0 Q198.2,95.1 198.2,100.3 V153.6" stroke="#2e2e2e" stroke-width="1.16" fill="none" /><line x1="138.70" y1="102.50" x2="198.20" y2="102.50" stroke="#2e2e2e" stroke-width="1.044" /><rect x="141.00" y="151.20" width="5.40" height="2.20" fill="#2a2a2a"/><rect x="190.00" y="151.20" width="6.00" height="2.20" fill="#2a2a2a"/><rect x="138.70" y="153.80" width="59.50" height="38.20" stroke="#2e2e2e" stroke-width="1.16" fill="none" /><rect x="142.20" y="155.40" width="52.60" height="34.60" stroke="#2e2e2e" stroke-width="1.044" fill="none" /><rect x="144.40" y="158.20" width="48.00" height="31.00" stroke="#1a1a1a" stroke-width="1.508" fill="none" /><text x="145.60" y="164.00" font-size="5.9" fill="#1a1a1a" text-anchor="start" font-weight="bold" textLength="16.20" lengthAdjust="spacingAndGlyphs" stroke="#1a1a1a" stroke-width="0.55" style="font-style:italic">ELCHIP</text><text x="162.40" y="163.90" font-size="4.3" fill="#1a1a1a" text-anchor="start" font-weight="bold" textLength="17.20" lengthAdjust="spacingAndGlyphs">技术参数</text><line x1="144.40" y1="165.10" x2="192.40" y2="165.10" stroke="#1a1a1a" stroke-width="1.218" /><line x1="144.40" y1="169.70" x2="192.40" y2="169.70" stroke="#1a1a1a" stroke-width="1.218" /><line x1="144.40" y1="174.30" x2="192.40" y2="174.30" stroke="#1a1a1a" stroke-width="1.218" /><line x1="144.40" y1="178.90" x2="192.40" y2="178.90" stroke="#1a1a1a" stroke-width="1.218" /><line x1="144.40" y1="183.60" x2="192.40" y2="183.60" stroke="#1a1a1a" stroke-width="1.218" /><line x1="168.60" y1="165.10" x2="168.60" y2="189.20" stroke="#1a1a1a" stroke-width="1.102" /><rect x="145.40" y="166.10" width="5.00" height="2.70" fill="#1a1a1a"/><text x="151.00" y="168.80" font-size="3.1" fill="#1a1a1a" text-anchor="start" font-weight="bold" textLength="15.50" lengthAdjust="spacingAndGlyphs" stroke="#1a1a1a" stroke-width="0.36" style="">voltage power</text><text x="169.60" y="168.80" font-size="3.1" fill="#1a1a1a" text-anchor="start" font-weight="bold" textLength="3.40" lengthAdjust="spacingAndGlyphs" stroke="#1a1a1a" stroke-width="0.36" style="">AC</text><rect x="145.40" y="170.70" width="5.00" height="2.70" fill="#1a1a1a"/><text x="151.00" y="173.40" font-size="3.1" fill="#1a1a1a" text-anchor="start" font-weight="bold" textLength="10.50" lengthAdjust="spacingAndGlyphs" stroke="#1a1a1a" stroke-width="0.36" style="">pressure</text><text x="169.60" y="173.40" font-size="3.1" fill="#1a1a1a" text-anchor="start" font-weight="bold" textLength="6.00" lengthAdjust="spacingAndGlyphs" stroke="#1a1a1a" stroke-width="0.36" style="">8Mpa</text><rect x="145.40" y="175.30" width="5.00" height="2.70" fill="#1a1a1a"/><text x="151.00" y="178.00" font-size="3.1" fill="#1a1a1a" text-anchor="start" font-weight="bold" textLength="15.50" lengthAdjust="spacingAndGlyphs" stroke="#1a1a1a" stroke-width="0.36" style="">Output Volume</text><text x="169.60" y="178.00" font-size="3.1" fill="#1a1a1a" text-anchor="start" font-weight="bold" textLength="9.50" lengthAdjust="spacingAndGlyphs" stroke="#1a1a1a" stroke-width="0.36" style="">20ml/min</text><rect x="145.40" y="179.90" width="5.00" height="2.70" fill="#1a1a1a"/><text x="151.00" y="182.60" font-size="3.1" fill="#1a1a1a" text-anchor="start" font-weight="bold" textLength="15.50" lengthAdjust="spacingAndGlyphs" stroke="#1a1a1a" stroke-width="0.36" style="">Tank Volume</text><text x="169.60" y="182.60" font-size="3.1" fill="#1a1a1a" text-anchor="start" font-weight="bold" textLength="19.50" lengthAdjust="spacingAndGlyphs" stroke="#1a1a1a" stroke-width="0.36" style="">0.8L 1.5L 2.0L</text><rect x="145.40" y="184.60" width="5.00" height="3.30" fill="#1a1a1a"/><text x="151.00" y="187.90" font-size="3.1" fill="#1a1a1a" text-anchor="start" font-weight="bold" textLength="5.00" lengthAdjust="spacingAndGlyphs" stroke="#1a1a1a" stroke-width="0.36" style="">Type</text><text x="169.60" y="187.90" font-size="3.1" fill="#1a1a1a" text-anchor="start" font-weight="bold" textLength="5.50" lengthAdjust="spacingAndGlyphs" stroke="#1a1a1a" stroke-width="0.36" style="">25W</text><line x1="138.70" y1="192.00" x2="292.90" y2="192.00" stroke="#2e2e2e" stroke-width="1.624" /><line x1="138.70" y1="196.00" x2="292.90" y2="196.00" stroke="#2e2e2e" stroke-width="1.624" /><line x1="138.70" y1="192.00" x2="138.70" y2="196.40" stroke="#2e2e2e" stroke-width="1.16" /><line x1="142.60" y1="189.60" x2="142.60" y2="196.40" stroke="#2e2e2e" stroke-width="1.044" /><line x1="200.30" y1="192.00" x2="200.30" y2="196.00" stroke="#2e2e2e" stroke-width="0.928" /><line x1="203.60" y1="192.00" x2="203.60" y2="196.00" stroke="#2e2e2e" stroke-width="0.928" /><line x1="206.40" y1="192.00" x2="206.40" y2="196.00" stroke="#2e2e2e" stroke-width="0.928" /><line x1="208.90" y1="192.00" x2="208.90" y2="196.00" stroke="#2e2e2e" stroke-width="0.928" /><rect x="141.20" y="196.60" width="4.80" height="2.20" fill="#2a2a2a"/><path d="M147.8,196.8 L164.6,217.0" stroke="#2e2e2e" stroke-width="1.74" fill="none" /><line x1="151.40" y1="196.80" x2="165.00" y2="213.20" stroke="#2e2e2e" stroke-width="0.812" /><line x1="164.30" y1="218.20" x2="213.00" y2="218.20" stroke="#2e2e2e" stroke-width="1.74" /><line x1="165.00" y1="196.40" x2="165.00" y2="218.20" stroke="#2e2e2e" stroke-width="1.392" /><line x1="170.30" y1="196.40" x2="170.30" y2="218.20" stroke="#2e2e2e" stroke-width="1.044" /><line x1="191.00" y1="196.40" x2="191.00" y2="218.20" stroke="#2e2e2e" stroke-width="0.928" /><line x1="193.90" y1="196.40" x2="193.90" y2="218.20" stroke="#2e2e2e" stroke-width="1.044" /><line x1="179.60" y1="197.00" x2="179.60" y2="214.60" stroke="#3a3a3a" stroke-width="2.32" stroke-linecap="round"/><rect x="164.60" y="218.60" width="5.60" height="2.80" fill="#262626"/><path d="M210.8,68.8 Q214,67.0 228,66.8 H276 Q290,67.0 292.9,68.8" stroke="#2e2e2e" stroke-width="1.972" fill="none" /><line x1="210.80" y1="69.90" x2="292.90" y2="69.90" stroke="#2e2e2e" stroke-width="0.928" /><line x1="211.00" y1="68.00" x2="211.00" y2="185.90" stroke="#2e2e2e" stroke-width="1.16" /><line x1="292.70" y1="68.00" x2="292.70" y2="196.40" stroke="#2e2e2e" stroke-width="1.16" /><rect x="208.30" y="73.90" width="2.40" height="6.00" fill="#222"/><rect x="293.00" y="73.90" width="2.40" height="6.00" fill="#222"/><circle cx="251.70" cy="77.00" r="2.60" stroke="#2e2e2e" stroke-width="0.0" fill="#222"/><rect x="214.20" y="86.00" width="76.00" height="80.40" stroke="#1c1c1c" stroke-width="1.972" fill="none" /><rect x="213.40" y="121.40" width="77.60" height="2.20" fill="#1c1c1c"/><rect x="213.40" y="146.90" width="77.60" height="2.10" fill="#1c1c1c"/><text x="231.60" y="94.50" font-size="6.3" fill="#1a1a1a" text-anchor="start" font-weight="bold" textLength="18.40" lengthAdjust="spacingAndGlyphs" stroke="#1a1a1a" stroke-width="0.85" style="font-style:italic">ELCHIP</text><text x="250.40" y="94.30" font-size="4" fill="#1a1a1a" text-anchor="start" font-weight="bold" textLength="16.00" lengthAdjust="spacingAndGlyphs">微力资金</text><rect x="216.70" y="98.50" width="18.10" height="4.40" fill="#1a1a1a"/><text x="218.00" y="102.00" font-size="3.6" fill="#fff" text-anchor="start" font-weight="bold" textLength="15.50" lengthAdjust="spacingAndGlyphs" stroke="#fff" stroke-width="0" style="">A T E N</text><text x="236.80" y="102.50" font-size="3.6" fill="#1a1a1a" text-anchor="start" font-weight="bold" textLength="21.60" lengthAdjust="spacingAndGlyphs">资金技术参数</text><text x="216.90" y="106.30" font-size="3.05" fill="#1a1a1a" text-anchor="start" font-weight="bold" textLength="30.50" lengthAdjust="spacingAndGlyphs">规格及技术参数资金微</text><text x="216.90" y="110.30" font-size="3.05" fill="#1a1a1a" text-anchor="start" font-weight="bold" textLength="48.80" lengthAdjust="spacingAndGlyphs">规格及技术参数资金微力规格及技术</text><text x="216.90" y="114.90" font-size="3.05" fill="#1a1a1a" text-anchor="start" font-weight="bold" textLength="36.60" lengthAdjust="spacingAndGlyphs">规格及技术参数资金微力规</text><text x="216.90" y="119.10" font-size="3.05" fill="#1a1a1a" text-anchor="start" font-weight="bold" textLength="36.60" lengthAdjust="spacingAndGlyphs">规格及技术参数资金微力规</text><rect x="216.90" y="125.30" width="18.50" height="4.30" fill="#555"/><text x="217.60" y="128.50" font-size="3.6" fill="#fff" text-anchor="start" font-weight="bold" textLength="17.00" lengthAdjust="spacingAndGlyphs" stroke="#fff" stroke-width="0" style="">CAUTION</text><text x="236.20" y="129.20" font-size="3.9" fill="#1a1a1a" text-anchor="start" font-weight="bold" textLength="44.40" lengthAdjust="spacingAndGlyphs" stroke="#1a1a1a" stroke-width="0.45" style="">OPERATIONAL HANDLING CAUTIONS</text><text x="216.90" y="134.00" font-size="3.2" fill="#1a1a1a" text-anchor="start" font-weight="bold" textLength="58.90" lengthAdjust="spacingAndGlyphs" stroke="#1a1a1a" stroke-width="0.42" style="">1.Please carefully read the service manual before using.</text><text x="216.90" y="138.00" font-size="3.2" fill="#1a1a1a" text-anchor="start" font-weight="bold" textLength="70.90" lengthAdjust="spacingAndGlyphs" stroke="#1a1a1a" stroke-width="0.42" style="">2.Must use the clean and qualified lubrication.(MAX 40MPa)</text><text x="216.90" y="141.70" font-size="3.2" fill="#1a1a1a" text-anchor="start" font-weight="bold" textLength="50.50" lengthAdjust="spacingAndGlyphs" stroke="#1a1a1a" stroke-width="0.42" style="">3.The refilling angle must be used to fill up.</text><text x="216.90" y="145.90" font-size="3.2" fill="#1a1a1a" text-anchor="start" font-weight="bold" textLength="62.40" lengthAdjust="spacingAndGlyphs" stroke="#1a1a1a" stroke-width="0.42" style="">4.Please turn on the indicating valve clos on discharge.</text><rect x="239.40" y="150.00" width="26.60" height="2.70" fill="#1a1a1a"/><text x="229.00" y="156.30" font-size="3.7" fill="#1a1a1a" text-anchor="start" font-weight="bold" textLength="46.00" lengthAdjust="spacingAndGlyphs" stroke="#1a1a1a" stroke-width="0.45" style="">SANHUAN  ELCHIP  INDUSTRY  CO., LTD</text><text x="237.20" y="159.80" font-size="2.2" fill="#1a1a1a" text-anchor="start" font-weight="bold" textLength="31.50" lengthAdjust="spacingAndGlyphs" stroke="#1a1a1a" stroke-width="0.3" style="">www.elchip.com  TEL:400-888-8888</text><text x="231.70" y="162.50" font-size="2.2" fill="#1a1a1a" text-anchor="start" font-weight="bold" textLength="40.60" lengthAdjust="spacingAndGlyphs" stroke="#1a1a1a" stroke-width="0.3" style="">Made in China  Add: Zhejiang Province</text><path d="M212.8,185.9 L217.6,176.0 L218.9,176.0 L219.5,185.9" stroke="#2e2e2e" stroke-width="1.044" fill="none" /><line x1="215.00" y1="185.90" x2="218.40" y2="178.60" stroke="#2e2e2e" stroke-width="0.928" /><path d="M222.6,185.9 L227.8,176.0 L229.10000000000002,176.0 L229.70000000000002,185.9" stroke="#2e2e2e" stroke-width="1.044" fill="none" /><line x1="224.80" y1="185.90" x2="228.60" y2="178.60" stroke="#2e2e2e" stroke-width="0.928" /><path d="M279.8,185.9 L275.8,176.0 L274.5,176.0 L273.90000000000003,185.9" stroke="#2e2e2e" stroke-width="1.044" fill="none" /><line x1="277.60" y1="185.90" x2="275.00" y2="178.60" stroke="#2e2e2e" stroke-width="0.928" /><path d="M291.4,185.9 L285.8,176.0 L284.5,176.0 L283.90000000000003,185.9" stroke="#2e2e2e" stroke-width="1.044" fill="none" /><line x1="289.20" y1="185.90" x2="285.00" y2="178.60" stroke="#2e2e2e" stroke-width="0.928" /><line x1="211.00" y1="185.90" x2="292.70" y2="185.90" stroke="#2e2e2e" stroke-width="1.044" /><line x1="218.30" y1="183.20" x2="218.30" y2="196.00" stroke="#2e2e2e" stroke-width="1.044" /><line x1="284.80" y1="183.20" x2="284.80" y2="196.00" stroke="#2e2e2e" stroke-width="1.044" /><line x1="211.60" y1="195.40" x2="211.60" y2="259.60" stroke="#2e2e2e" stroke-width="1.508" /><line x1="218.20" y1="196.00" x2="218.20" y2="207.60" stroke="#2e2e2e" stroke-width="0.928" /><rect x="219.60" y="198.00" width="5.70" height="7.80" stroke="#2e2e2e" stroke-width="1.392" fill="none" /><rect x="225.90" y="196.20" width="4.00" height="11.40" fill="#191919"/><rect x="230.60" y="198.00" width="9.90" height="7.80" stroke="#2e2e2e" stroke-width="1.392" fill="none" /><rect x="241.20" y="196.20" width="2.50" height="17.20" fill="#191919"/><rect x="247.30" y="196.20" width="11.20" height="20.10" fill="#191919"/><rect x="249.90" y="198.30" width="7.60" height="1.40" fill="#fff"/><rect x="249.90" y="201.40" width="7.60" height="1.60" fill="#fff"/><circle cx="253.70" cy="209.30" r="2.30" stroke="#fff" stroke-width="1.276" fill="#191919"/><rect x="254.60" y="208.60" width="2.40" height="1.40" fill="#191919"/><rect x="217.00" y="207.60" width="24.60" height="2.60" fill="#3c3c3c"/><rect x="217.00" y="207.60" width="1.80" height="9.60" fill="#2a2a2a"/><line x1="227.60" y1="196.20" x2="227.60" y2="214.50" stroke="#fff" stroke-width="0.812" /><line x1="225.20" y1="208.90" x2="230.20" y2="208.90" stroke="#fff" stroke-width="0.696" /><path d="M220,211.2 H225.2 V216" stroke="#2e2e2e" stroke-width="0.928" fill="none" /><path d="M230.6,216 V211.8 H241.4 V214" stroke="#2e2e2e" stroke-width="0.928" fill="none" /><line x1="261.40" y1="195.40" x2="261.40" y2="224.00" stroke="#191919" stroke-width="1.624" /><line x1="259.00" y1="216.00" x2="259.00" y2="260.40" stroke="#191919" stroke-width="1.74" /><rect x="263.40" y="200.60" width="3.20" height="15.80" stroke="#2e2e2e" stroke-width="1.16" fill="none" /><line x1="263.40" y1="206.00" x2="266.60" y2="206.00" stroke="#2e2e2e" stroke-width="0.696" /><line x1="263.40" y1="211.00" x2="266.60" y2="211.00" stroke="#2e2e2e" stroke-width="0.696" /><path d="M200,218.0 H219 L222,216.6 L224,222 L221,227.4 H216.8 V221.2 H211 V220.2 H200 Z" stroke="#2e2e2e" stroke-width="0.0" fill="#151515" /><rect x="212.20" y="223.80" width="4.60" height="2.80" stroke="#2e2e2e" stroke-width="0.928" fill="none" /><path d="M211.6,227 V259.4 H228.6" stroke="#2e2e2e" stroke-width="1.508" fill="none" /><rect x="223.00" y="228.50" width="2.00" height="30.90" fill="#8a8a8a"/><line x1="222.60" y1="228.50" x2="222.60" y2="259.40" stroke="#2e2e2e" stroke-width="0.928" /><line x1="225.40" y1="228.50" x2="225.40" y2="259.40" stroke="#2e2e2e" stroke-width="0.928" /><line x1="228.60" y1="227.00" x2="228.60" y2="259.40" stroke="#2e2e2e" stroke-width="1.508" /><ellipse cx="218.00" cy="235.10" rx="3.20" ry="4.70" stroke="#2e2e2e" stroke-width="1.392" fill="#fff"/><ellipse cx="218.00" cy="252.60" rx="3.20" ry="4.70" stroke="#2e2e2e" stroke-width="1.392" fill="#fff"/><line x1="228.60" y1="243.00" x2="240.00" y2="243.00" stroke="#2e2e2e" stroke-width="1.392" /><line x1="251.00" y1="243.00" x2="259.00" y2="243.00" stroke="#2e2e2e" stroke-width="1.392" /><rect x="239.60" y="243.40" width="11.00" height="2.80" stroke="#2e2e2e" stroke-width="1.16" fill="#b5b5b5" /><line x1="257.20" y1="224.00" x2="257.20" y2="243.00" stroke="#2e2e2e" stroke-width="0.928" /><circle cx="227.20" cy="221.60" r="6.90" stroke="#2e2e2e" stroke-width="0.0" fill="#161616"/><circle cx="227.20" cy="221.60" r="3.35" stroke="#fff" stroke-width="1.5" fill="#3a3a3a"/><circle cx="245.30" cy="220.60" r="6.60" stroke="#161616" stroke-width="2.5" fill="#fff"/><circle cx="245.30" cy="220.60" r="3.90" stroke="#222" stroke-width="1.1" fill="#fff"/><rect x="244.50" y="217.00" width="1.60" height="7.20" fill="#222"/><rect x="242.50" y="220.10" width="1.40" height="1.00" fill="#333"/><rect x="246.70" y="220.10" width="1.40" height="1.00" fill="#333"/><circle cx="245.30" cy="236.20" r="7.30" stroke="#2e2e2e" stroke-width="0.0" fill="#161616"/><circle cx="245.30" cy="236.20" r="3.35" stroke="#fff" stroke-width="1.5" fill="#3a3a3a"/><path d="M261.4,224.0 H274.0 Q276.2,224.0 276.2,226.2 V259.9 H258.4" stroke="#2e2e2e" stroke-width="1.508" fill="none" /><rect x="261.90" y="226.00" width="2.30" height="33.60" fill="#8a8a8a"/><line x1="264.60" y1="225.00" x2="264.60" y2="259.90" stroke="#2e2e2e" stroke-width="1.044" /><line x1="261.40" y1="224.00" x2="261.40" y2="259.90" stroke="#2e2e2e" stroke-width="0.928" /><ellipse cx="269.60" cy="235.10" rx="3.20" ry="4.70" stroke="#2e2e2e" stroke-width="1.392" fill="#fff"/><ellipse cx="269.60" cy="252.60" rx="3.20" ry="4.70" stroke="#2e2e2e" stroke-width="1.392" fill="#fff"/></g><g transform="translate(380.8,15.2)"><line x1="272.90" y1="233.60" x2="294.60" y2="233.60" stroke="#222" stroke-width="1.044" /><line x1="272.90" y1="251.30" x2="294.60" y2="251.30" stroke="#222" stroke-width="1.044" /><line x1="288.70" y1="225.00" x2="288.70" y2="260.50" stroke="#222" stroke-width="1.044" /><polygon points="288.70,233.60 287.45,224.80 289.95,224.80" fill="#222"/><polygon points="288.70,251.30 287.45,260.10 289.95,260.10" fill="#222"/><g transform="translate(287.0,242.7) rotate(-90)"><text x="0.00" y="0.00" font-size="13.2" fill="#363636" text-anchor="middle" font-weight="normal" textLength="13.00" lengthAdjust="spacingAndGlyphs"  style="">24</text></g><line x1="209.30" y1="272.60" x2="278.20" y2="272.60" stroke="#222" stroke-width="1.044" /><polygon points="217.90,272.60 209.10,271.35 209.10,273.85" fill="#222"/><polygon points="269.70,272.60 278.50,271.35 278.50,273.85" fill="#222"/><line x1="217.90" y1="252.60" x2="217.90" y2="274.40" stroke="#222" stroke-width="1.044" /><line x1="269.70" y1="252.60" x2="269.70" y2="274.40" stroke="#222" stroke-width="1.044" /><text x="244.20" y="271.10" font-size="13.2" fill="#363636" text-anchor="middle" font-weight="normal" textLength="12.20" lengthAdjust="spacingAndGlyphs"  style="">70</text><line x1="276.90" y1="260.50" x2="306.40" y2="282.10" stroke="#222" stroke-width="1.044" /><g transform="translate(303.0,275.6) rotate(36.2)"><text x="0.00" y="0.00" font-size="12.4" fill="#363636" text-anchor="middle" font-weight="normal" textLength="22.60" lengthAdjust="spacingAndGlyphs"  style="">R4.5</text></g></g><text x="536.00" y="268.10" font-size="11.4" fill="#2a2a2a" text-anchor="start" font-weight="normal" textLength="34.20" lengthAdjust="spacingAndGlyphs">加油口</text><path d="M535.4,270.9 H575.2 L598.2,248.6" stroke="#222" stroke-width="1.16" fill="none" /><text x="536.00" y="286.40" font-size="11.4" fill="#2a2a2a" text-anchor="start" font-weight="normal" textLength="34.20" lengthAdjust="spacingAndGlyphs">出油口</text><path d="M535.4,288.8 H575.2 L621.4,255.4" stroke="#222" stroke-width="1.16" fill="none" /><text x="540.20" y="296.90" font-size="6.3" fill="#222" text-anchor="start" font-weight="bold" textLength="19.40" lengthAdjust="spacingAndGlyphs" stroke="#222" stroke-width="0.2" style="">M10*1</text><rect x="611.20" y="58.40" width="26.40" height="15.20" stroke="#191919" stroke-width="1.9" fill="#fff" /><rect x="610.20" y="57.40" width="3.40" height="17.10" fill="#191919"/><rect x="610.20" y="60.40" width="8.00" height="2.40" fill="#191919"/><rect x="610.20" y="64.60" width="8.00" height="2.40" fill="#191919"/><rect x="610.20" y="69.20" width="8.00" height="2.40" fill="#191919"/><line x1="608.00" y1="65.40" x2="612.00" y2="65.40" stroke="#191919" stroke-width="1.16" /><text x="618.60" y="68.00" font-size="5.0" fill="#111" text-anchor="start" font-weight="bold" textLength="15.20" lengthAdjust="spacingAndGlyphs" stroke="#111" stroke-width="0.5" style="font-style:italic">ELCHIP</text><rect x="627.40" y="74.50" width="9.80" height="6.90" stroke="#2e2e2e" stroke-width="1.044" fill="#fff" /><line x1="638.50" y1="57.60" x2="638.50" y2="81.20" stroke="#222" stroke-width="1.044" /><text x="530.40" y="76.10" font-size="11.4" fill="#2a2a2a" text-anchor="start" font-weight="normal" textLength="45.60" lengthAdjust="spacingAndGlyphs">液位开关</text><path d="M530.4,78.9 H577.6 L611,67.0" stroke="#222" stroke-width="1.16" fill="none" /><line x1="638.00" y1="57.80" x2="751.80" y2="57.80" stroke="#222" stroke-width="1.044" /><line x1="638.50" y1="81.20" x2="734.80" y2="81.20" stroke="#222" stroke-width="1.044" /><line x1="639.40" y1="275.80" x2="755.20" y2="275.80" stroke="#222" stroke-width="1.044" /><line x1="732.70" y1="81.20" x2="732.70" y2="275.80" stroke="#222" stroke-width="1.044" /><line x1="750.20" y1="57.80" x2="750.20" y2="275.80" stroke="#222" stroke-width="1.044" /><polygon points="732.70,81.20 731.45,90.00 733.95,90.00" fill="#222"/><polygon points="732.70,275.80 731.45,267.00 733.95,267.00" fill="#222"/><polygon points="750.20,57.80 748.95,66.60 751.45,66.60" fill="#222"/><polygon points="750.20,275.80 748.95,267.00 751.45,267.00" fill="#222"/><g transform="translate(730.2,167.8) rotate(-90)"><text x="0.00" y="0.00" font-size="13.2" fill="#363636" text-anchor="middle" font-weight="normal" textLength="18.20" lengthAdjust="spacingAndGlyphs"  style="">265</text></g><g transform="translate(748.0,167.8) rotate(-90)"><text x="0.00" y="0.00" font-size="13.2" fill="#363636" text-anchor="middle" font-weight="normal" textLength="18.20" lengthAdjust="spacingAndGlyphs"  style="">296</text></g><text x="679.80" y="158.90" font-size="11.6" fill="#2a2a2a" text-anchor="start" font-weight="normal" textLength="34.80" lengthAdjust="spacingAndGlyphs">排气阀</text><path d="M715.6,162.6 H681.0 L635.4,224.4" stroke="#222" stroke-width="1.16" fill="none" /><text x="679.80" y="177.90" font-size="11.6" fill="#2a2a2a" text-anchor="start" font-weight="normal" textLength="34.80" lengthAdjust="spacingAndGlyphs">调压阀</text><path d="M715.6,180.6 H681.0 L627.4,234.6" stroke="#222" stroke-width="1.16" fill="none" /><text x="679.80" y="201.50" font-size="11.6" fill="#2a2a2a" text-anchor="start" font-weight="normal" textLength="34.80" lengthAdjust="spacingAndGlyphs">电磁阀</text><path d="M715.6,204.5 H681.0 L675.2,213.0" stroke="#222" stroke-width="1.16" fill="none" /><polygon points="541.0,321.3 546.2,330.6 535.8,330.6" fill="#2b2b2b"/><text x="551.20" y="330.60" font-size="13" fill="#3a3a3a" text-anchor="start" font-weight="normal" textLength="81.00" lengthAdjust="spacingAndGlyphs"  style="">NZL0.8-CAXK</text><text x="1.80" y="411.50" font-size="17.77" fill="#3f98d4" text-anchor="start" font-weight="bold" textLength="124.40" lengthAdjust="spacingAndGlyphs">规格及技术参数</text><rect x="1.00" y="438.80" width="759.40" height="28.50" fill="#e6e6e6"/><rect x="0.00" y="625.60" width="763.00" height="2.40" fill="#f3f3f3"/><line x1="1.00" y1="438.80" x2="760.40" y2="438.80" stroke="#5e5e5e" stroke-width="1.16" /><line x1="1.00" y1="467.30" x2="760.40" y2="467.30" stroke="#5e5e5e" stroke-width="1.16" /><line x1="1.00" y1="484.10" x2="206.40" y2="484.10" stroke="#5e5e5e" stroke-width="1.16" /><line x1="451.40" y1="484.10" x2="513.60" y2="484.10" stroke="#5e5e5e" stroke-width="1.16" /><line x1="1.00" y1="500.80" x2="206.40" y2="500.80" stroke="#5e5e5e" stroke-width="1.16" /><line x1="451.40" y1="500.80" x2="513.60" y2="500.80" stroke="#5e5e5e" stroke-width="1.16" /><line x1="1.00" y1="517.50" x2="206.40" y2="517.50" stroke="#5e5e5e" stroke-width="1.16" /><line x1="451.40" y1="517.50" x2="513.60" y2="517.50" stroke="#5e5e5e" stroke-width="1.16" /><line x1="1.00" y1="534.80" x2="206.40" y2="534.80" stroke="#5e5e5e" stroke-width="1.16" /><line x1="451.40" y1="534.80" x2="513.60" y2="534.80" stroke="#5e5e5e" stroke-width="1.16" /><line x1="1.00" y1="551.20" x2="206.40" y2="551.20" stroke="#5e5e5e" stroke-width="1.16" /><line x1="451.40" y1="551.20" x2="513.60" y2="551.20" stroke="#5e5e5e" stroke-width="1.16" /><line x1="1.00" y1="569.40" x2="206.40" y2="569.40" stroke="#5e5e5e" stroke-width="1.16" /><line x1="451.40" y1="569.40" x2="513.60" y2="569.40" stroke="#5e5e5e" stroke-width="1.16" /><line x1="1.00" y1="587.00" x2="206.40" y2="587.00" stroke="#5e5e5e" stroke-width="1.16" /><line x1="451.40" y1="587.00" x2="513.60" y2="587.00" stroke="#5e5e5e" stroke-width="1.16" /><line x1="1.00" y1="604.40" x2="206.40" y2="604.40" stroke="#5e5e5e" stroke-width="1.16" /><line x1="451.40" y1="604.40" x2="513.60" y2="604.40" stroke="#5e5e5e" stroke-width="1.16" /><line x1="1.00" y1="621.00" x2="760.40" y2="621.00" stroke="#5e5e5e" stroke-width="1.16" /><line x1="513.60" y1="517.50" x2="629.40" y2="517.50" stroke="#5e5e5e" stroke-width="1.16" /><line x1="513.60" y1="569.40" x2="629.40" y2="569.40" stroke="#5e5e5e" stroke-width="1.16" /><line x1="1.00" y1="438.80" x2="1.00" y2="621.00" stroke="#5e5e5e" stroke-width="1.16" /><line x1="100.00" y1="438.80" x2="100.00" y2="621.00" stroke="#5e5e5e" stroke-width="1.16" /><line x1="206.40" y1="438.80" x2="206.40" y2="621.00" stroke="#5e5e5e" stroke-width="1.16" /><line x1="318.00" y1="438.80" x2="318.00" y2="621.00" stroke="#5e5e5e" stroke-width="1.16" /><line x1="451.40" y1="438.80" x2="451.40" y2="621.00" stroke="#5e5e5e" stroke-width="1.16" /><line x1="513.60" y1="438.80" x2="513.60" y2="621.00" stroke="#5e5e5e" stroke-width="1.16" /><line x1="629.40" y1="438.80" x2="629.40" y2="621.00" stroke="#5e5e5e" stroke-width="1.16" /><line x1="760.40" y1="438.80" x2="760.40" y2="621.00" stroke="#5e5e5e" stroke-width="1.16" /><text x="36.55" y="457.70" font-size="9.9" fill="#222" text-anchor="start" font-weight="500" textLength="19.50" lengthAdjust="spacingAndGlyphs">型号</text><text x="124.80" y="457.70" font-size="9.9" fill="#222" text-anchor="start" font-weight="500" textLength="39.00" lengthAdjust="spacingAndGlyphs">物料编码</text><text x="221.10" y="457.70" font-size="9.9" fill="#222" text-anchor="start" font-weight="500" textLength="39.00" lengthAdjust="spacingAndGlyphs">公称流量</text><text x="260.30" y="457.20" font-size="10.4" fill="#222" text-anchor="start" font-weight="normal" textLength="31.60" lengthAdjust="spacingAndGlyphs" stroke="#222" stroke-width="0.25" style="">ml/min</text><text x="353.60" y="457.70" font-size="9.9" fill="#222" text-anchor="start" font-weight="500" textLength="39.00" lengthAdjust="spacingAndGlyphs">公称压力</text><text x="392.80" y="457.20" font-size="10.2" fill="#222" text-anchor="start" font-weight="normal" textLength="19.60" lengthAdjust="spacingAndGlyphs" stroke="#222" stroke-width="0.25" style="">Mpa</text><text x="460.45" y="457.70" font-size="9.9" fill="#222" text-anchor="start" font-weight="500" textLength="39.00" lengthAdjust="spacingAndGlyphs">油箱容积</text><text x="499.65" y="457.20" font-size="10.0" fill="#222" text-anchor="start" font-weight="normal" textLength="4.90" lengthAdjust="spacingAndGlyphs" stroke="#222" stroke-width="0.25" style="">L</text><text x="558.25" y="457.70" font-size="9.9" fill="#222" text-anchor="start" font-weight="500" textLength="19.50" lengthAdjust="spacingAndGlyphs">电压</text><text x="672.90" y="457.70" font-size="9.9" fill="#222" text-anchor="start" font-weight="500" textLength="39.00" lengthAdjust="spacingAndGlyphs">主机功率</text><text x="12.00" y="480.95" font-size="10.3" fill="#2a2a2a" text-anchor="start" font-weight="normal" textLength="61.20" lengthAdjust="spacingAndGlyphs" stroke="#2a2a2a" stroke-width="0.12" style="">NZL0.8-AATD</text><text x="149.00" y="481.20" font-size="11.0" fill="#1e1e1e" text-anchor="middle" font-weight="normal" textLength="58.20" lengthAdjust="spacingAndGlyphs" stroke="#1e1e1e" stroke-width="0.32" style="">1100063172</text><text x="484.00" y="481.20" font-size="11.0" fill="#1e1e1e" text-anchor="middle" font-weight="normal" textLength="15.20" lengthAdjust="spacingAndGlyphs" stroke="#1e1e1e" stroke-width="0.32" style="">0.8</text><text x="12.00" y="497.70" font-size="10.3" fill="#2a2a2a" text-anchor="start" font-weight="normal" textLength="59.60" lengthAdjust="spacingAndGlyphs" stroke="#2a2a2a" stroke-width="0.12" style="">NZL1.5-AATD</text><text x="149.00" y="497.95" font-size="11.0" fill="#1e1e1e" text-anchor="middle" font-weight="normal" textLength="58.20" lengthAdjust="spacingAndGlyphs" stroke="#1e1e1e" stroke-width="0.32" style="">1100069561</text><text x="484.00" y="497.95" font-size="11.0" fill="#1e1e1e" text-anchor="middle" font-weight="normal" textLength="15.20" lengthAdjust="spacingAndGlyphs" stroke="#1e1e1e" stroke-width="0.32" style="">1.5</text><text x="12.00" y="514.40" font-size="10.3" fill="#2a2a2a" text-anchor="start" font-weight="normal" textLength="61.20" lengthAdjust="spacingAndGlyphs" stroke="#2a2a2a" stroke-width="0.12" style="">NZL2.0-AATD</text><text x="149.00" y="514.65" font-size="11.0" fill="#1e1e1e" text-anchor="middle" font-weight="normal" textLength="58.20" lengthAdjust="spacingAndGlyphs" stroke="#1e1e1e" stroke-width="0.32" style="">1100069565</text><text x="484.00" y="514.65" font-size="11.0" fill="#1e1e1e" text-anchor="middle" font-weight="normal" textLength="15.20" lengthAdjust="spacingAndGlyphs" stroke="#1e1e1e" stroke-width="0.32" style="">2.0</text><text x="12.00" y="531.40" font-size="10.3" fill="#2a2a2a" text-anchor="start" font-weight="normal" textLength="61.20" lengthAdjust="spacingAndGlyphs" stroke="#2a2a2a" stroke-width="0.12" style="">NZL0.8-CATD</text><text x="149.00" y="531.65" font-size="11.0" fill="#1e1e1e" text-anchor="middle" font-weight="normal" textLength="58.20" lengthAdjust="spacingAndGlyphs" stroke="#1e1e1e" stroke-width="0.32" style="">1100063171</text><text x="484.00" y="531.65" font-size="11.0" fill="#1e1e1e" text-anchor="middle" font-weight="normal" textLength="15.20" lengthAdjust="spacingAndGlyphs" stroke="#1e1e1e" stroke-width="0.32" style="">0.8</text><text x="12.00" y="548.25" font-size="10.3" fill="#2a2a2a" text-anchor="start" font-weight="normal" textLength="59.60" lengthAdjust="spacingAndGlyphs" stroke="#2a2a2a" stroke-width="0.12" style="">NZL1.5-CATD</text><text x="149.00" y="548.50" font-size="11.0" fill="#1e1e1e" text-anchor="middle" font-weight="normal" textLength="58.20" lengthAdjust="spacingAndGlyphs" stroke="#1e1e1e" stroke-width="0.32" style="">1100068950</text><text x="484.00" y="548.50" font-size="11.0" fill="#1e1e1e" text-anchor="middle" font-weight="normal" textLength="15.20" lengthAdjust="spacingAndGlyphs" stroke="#1e1e1e" stroke-width="0.32" style="">1.5</text><text x="12.00" y="565.55" font-size="10.3" fill="#2a2a2a" text-anchor="start" font-weight="normal" textLength="61.20" lengthAdjust="spacingAndGlyphs" stroke="#2a2a2a" stroke-width="0.12" style="">NZL2.0-CATD</text><text x="149.00" y="565.80" font-size="11.0" fill="#1e1e1e" text-anchor="middle" font-weight="normal" textLength="58.20" lengthAdjust="spacingAndGlyphs" stroke="#1e1e1e" stroke-width="0.32" style="">1100063166</text><text x="484.00" y="565.80" font-size="11.0" fill="#1e1e1e" text-anchor="middle" font-weight="normal" textLength="15.20" lengthAdjust="spacingAndGlyphs" stroke="#1e1e1e" stroke-width="0.32" style="">2.0</text><text x="12.00" y="583.45" font-size="10.3" fill="#2a2a2a" text-anchor="start" font-weight="normal" textLength="61.20" lengthAdjust="spacingAndGlyphs" stroke="#2a2a2a" stroke-width="0.12" style="">NZL0.8-DATD</text><text x="149.00" y="583.70" font-size="11.0" fill="#1e1e1e" text-anchor="middle" font-weight="normal" textLength="58.20" lengthAdjust="spacingAndGlyphs" stroke="#1e1e1e" stroke-width="0.32" style="">1100063168</text><text x="484.00" y="583.70" font-size="11.0" fill="#1e1e1e" text-anchor="middle" font-weight="normal" textLength="15.20" lengthAdjust="spacingAndGlyphs" stroke="#1e1e1e" stroke-width="0.32" style="">0.8</text><text x="12.00" y="600.95" font-size="10.3" fill="#2a2a2a" text-anchor="start" font-weight="normal" textLength="59.60" lengthAdjust="spacingAndGlyphs" stroke="#2a2a2a" stroke-width="0.12" style="">NZL1.5-DATD</text><text x="149.00" y="601.20" font-size="11.0" fill="#1e1e1e" text-anchor="middle" font-weight="normal" textLength="58.20" lengthAdjust="spacingAndGlyphs" stroke="#1e1e1e" stroke-width="0.32" style="">1100096951</text><text x="484.00" y="601.20" font-size="11.0" fill="#1e1e1e" text-anchor="middle" font-weight="normal" textLength="15.20" lengthAdjust="spacingAndGlyphs" stroke="#1e1e1e" stroke-width="0.32" style="">1.5</text><text x="12.00" y="617.95" font-size="10.3" fill="#2a2a2a" text-anchor="start" font-weight="normal" textLength="61.20" lengthAdjust="spacingAndGlyphs" stroke="#2a2a2a" stroke-width="0.12" style="">NZL2.0-DATD</text><text x="149.00" y="618.20" font-size="11.0" fill="#1e1e1e" text-anchor="middle" font-weight="normal" textLength="58.20" lengthAdjust="spacingAndGlyphs" stroke="#1e1e1e" stroke-width="0.32" style="">1100063164</text><text x="484.00" y="618.20" font-size="11.0" fill="#1e1e1e" text-anchor="middle" font-weight="normal" textLength="15.20" lengthAdjust="spacingAndGlyphs" stroke="#1e1e1e" stroke-width="0.32" style="">2.0</text><text x="262.20" y="549.35" font-size="11.0" fill="#1e1e1e" text-anchor="middle" font-weight="normal" textLength="11.60" lengthAdjust="spacingAndGlyphs" stroke="#1e1e1e" stroke-width="0.32" style="">20</text><text x="384.60" y="549.35" font-size="11.0" fill="#1e1e1e" text-anchor="middle" font-weight="normal" stroke="#1e1e1e" stroke-width="0.32" style="">8</text><text x="695.80" y="549.35" font-size="11.0" fill="#1e1e1e" text-anchor="middle" font-weight="normal" textLength="21.40" lengthAdjust="spacingAndGlyphs" stroke="#1e1e1e" stroke-width="0.32" style="">25W</text><text x="571.80" y="497.60" font-size="11.0" fill="#1e1e1e" text-anchor="middle" font-weight="normal" textLength="34.80" lengthAdjust="spacingAndGlyphs" stroke="#1e1e1e" stroke-width="0.32" style="">DC24V</text><text x="571.80" y="548.65" font-size="11.0" fill="#1e1e1e" text-anchor="middle" font-weight="normal" textLength="39.80" lengthAdjust="spacingAndGlyphs" stroke="#1e1e1e" stroke-width="0.32" style="">AC220V</text><text x="571.80" y="600.40" font-size="11.0" fill="#1e1e1e" text-anchor="middle" font-weight="normal" textLength="39.80" lengthAdjust="spacingAndGlyphs" stroke="#1e1e1e" stroke-width="0.32" style="">AC380V</text>
</g>
</svg>
</body></html>
